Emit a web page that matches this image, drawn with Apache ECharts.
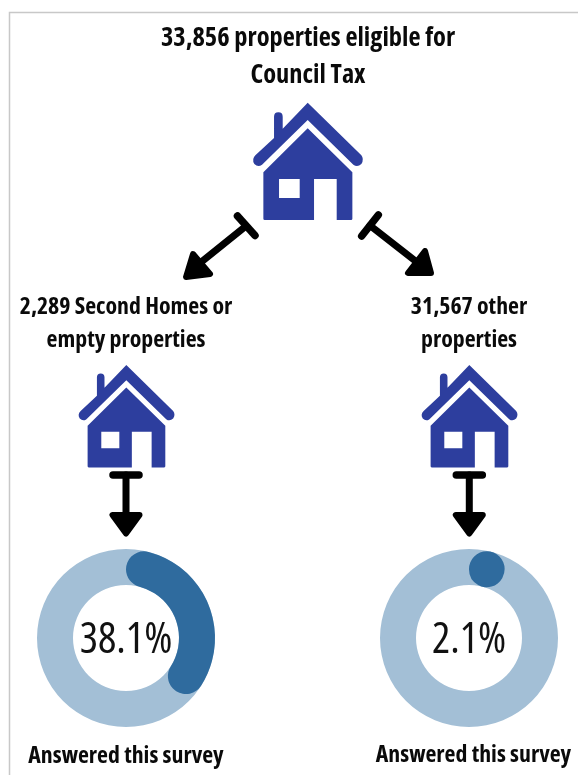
<!DOCTYPE html>
<html>
<head>
<meta charset="utf-8">
<script src="https://cdn.jsdelivr.net/npm/echarts@6/dist/echarts.min.js"></script>
<style>
  html, body { margin: 0; padding: 0; background: #fff; }
  #main { width: 578px; height: 775px; }
</style>
</head>
<body>
<div id="main"></div>
<script>
// survey values
const pieNames = ['Second Homes or empty', 'Other properties']
const answered = [38.1, 2.1]
const notAnswered = [61.9, 97.9]
const headline = ['33,856 properties eligible for', 'Council Tax']
const leftLabel = ['2,289 Second Homes or', 'empty properties']
const rightLabel = ['31,567 other', 'properties']
const footer = 'Answered this survey'

const FONT = "'Open Sans', 'Noto Sans', sans-serif"
const HOUSE = '#2d3e9e'
const DARK = '#2f6b9e'
const LIGHT = '#a3bfd6'
const centers = [[126, 638], [469, 638]]

// house icon, drawn in a 330x352 box
const housePath = 'M165 0 L326 158 Q335 170 326 184 Q314 195 302 186 L165 52 L28 186 Q16 195 5 184 Q-4 170 8 158 L64 106 L64 42 Q64 29 77 29 Q90 29 90 42 L90 78 Z ' +
  'M165 77 L299 209 L299 348 Q299 352 295 352 L252 352 L252 229 L184 229 L184 352 L36 352 Q32 352 32 348 L32 209 Z ' +
  'M79 229 L79 286 L141 286 L141 229 Z'
echarts.graphic.registerShape('house', echarts.graphic.extendPath(housePath, {}))

function house(x, y, s) {
  return { type: 'house', x: x, y: y, scaleX: s, scaleY: s, style: { fill: HOUSE } }
}
function bar(x1, y1, x2, y2, w) {
  return { type: 'line', shape: { x1, y1, x2, y2 }, style: { stroke: '#000', lineWidth: w, lineCap: 'round' } }
}
function head(points) {
  return { type: 'polygon', shape: { points }, style: { fill: '#000', stroke: '#000', lineWidth: 6, lineJoin: 'round' } }
}
function label(text, x, y, size) {
  return {
    type: 'text', x: x, y: y,
    style: { text, fontFamily: FONT, fontWeight: 'bold condensed', fontSize: size, fill: '#0a0a0a', align: 'center', verticalAlign: 'middle' }
  }
}
function downArrow(cx) {
  return [
    bar(cx - 13, 475, cx + 13, 475, 7.5),
    bar(cx, 475, cx, 515, 7),
    head([[cx - 13.5, 515], [cx + 13.5, 515], [cx, 533.5]])
  ]
}

const graphics = [
  { type: 'polyline', shape: { points: [[9.5, 775], [9.5, 12.5], [578, 12.5]] }, style: { stroke: '#c8c8c8', fill: null, lineWidth: 1.5 } },
  label(headline[0], 308, 38, 26.4),
  label(headline[1], 308, 75, 26.4),
  house(252.7, 102.7, 1 / 3),
  bar(237.5, 216, 255, 235.5, 7.5),
  bar(246, 226, 200, 263, 7),
  head([[193, 254], [210, 274], [186, 277]]),
  bar(378.3, 215, 361.7, 236, 7.5),
  bar(370, 225.5, 418, 263, 7),
  head([[425, 251], [408, 273], [431, 273]]),
  label(leftLabel[0], 126, 307, 23.8),
  label(leftLabel[1], 126, 340, 23.8),
  label(rightLabel[0], 469, 307, 23.8),
  label(rightLabel[1], 469, 340, 23.8),
  house(78.3, 365, 0.291),
  house(421.3, 365, 0.291),
  ...downArrow(126),
  ...downArrow(469.3),
  label(footer, 126, 756, 23.8),
  label(footer, 473.5, 755, 23.8)
]

// one light ring under each donut, dark slice with round ends on top
const series = []
answered.forEach((v, i) => {
  series.push({
    type: 'pie', silent: true, center: centers[i], radius: [53, 89], label: { show: false },
    data: [{ name: pieNames[i], value: v + notAnswered[i], itemStyle: { color: LIGHT } }]
  })
  series.push({
    type: 'pie', silent: true, center: centers[i], radius: [53, 89], startAngle: 90, minAngle: 29,
    labelLine: { show: false },
    labelLayout: { dy: 3 },
    data: [
      {
        name: pieNames[i], value: v,
        itemStyle: { color: DARK, borderRadius: 18 },
        label: {
          show: true, position: 'center', formatter: v + '%',
          fontFamily: FONT, fontWeight: 'normal condensed', fontSize: 43, color: '#111'
        }
      },
      { name: 'Rest', value: notAnswered[i], itemStyle: { color: 'transparent' }, label: { show: false } }
    ]
  })
})

const chart = echarts.init(document.getElementById('main'))
chart.setOption({
  animation: false,
  backgroundColor: '#fff',
  graphic: graphics,
  series: series
})
</script>
</body>
</html>
